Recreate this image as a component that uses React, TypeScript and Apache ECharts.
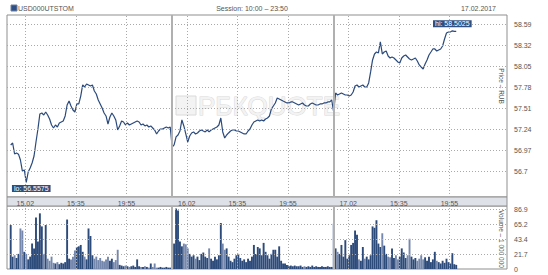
import React, { useEffect, useRef } from "react";
import * as echarts from "echarts";

// 10-minute slots, 83 slots per session (10:00 – 23:50), sessions joined end to end
const STEP_MIN = 10;
const dayStarts = [830, 1660];

const priceValues = [
  57.038, 57.063, 56.922, 56.935, 56.92, 56.845, 56.703, 56.717, 56.5575, 56.691,
  56.742, 56.806, 56.896, 57.076, 57.243, 57.436, 57.448, 57.423, 57.461, 57.423,
  57.371, 57.294, 57.256, 57.294, 57.269, 57.32, 57.333, 57.346, 57.41, 57.551,
  57.602, 57.538, 57.487, 57.461, 57.564, 57.564, 57.666, 57.808, 57.782, 57.821,
  57.808, 57.795, 57.808, 57.731, 57.692, 57.615, 57.564, 57.513, 57.448, 57.41,
  57.307, 57.397, 57.448, 57.41, 57.359, 57.23, 57.282, 57.346, 57.333, 57.294,
  57.32, 57.294, 57.307, 57.32, 57.333, 57.346, 57.333, 57.294, 57.307, 57.282,
  57.294, 57.269, 57.282, 57.256, 57.23, 57.179, 57.217, 57.243, 57.243, 57.256,
  57.269, 57.256, 57.269,
  57.012, 57.038, 57.141, 57.166, 57.217, 57.359, 57.282,
  57.179, 57.076, 57.153, 57.192, 57.205, 57.179, 57.192, 57.217, 57.23, 57.217,
  57.205, 57.23, 57.205, 57.23, 57.243, 57.256, 57.269, 57.294, 57.384, 57.205,
  57.128, 57.166, 57.192, 57.217, 57.23, 57.23, 57.217, 57.217, 57.205, 57.192,
  57.179, 57.179, 57.217, 57.243, 57.294, 57.333, 57.346, 57.359, 57.346, 57.359,
  57.346, 57.371, 57.384, 57.41, 57.5, 57.538, 57.577, 57.641, 57.628, 57.615,
  57.602, 57.59, 57.577, 57.577, 57.59, 57.59, 57.577, 57.564, 57.551, 57.564,
  57.577, 57.551, 57.538, 57.538, 57.564, 57.577, 57.564, 57.551, 57.551, 57.564,
  57.564, 57.577, 57.577, 57.59, 57.59, 57.615,
  57.461, 57.705, 57.679, 57.692,
  57.705, 57.692, 57.679, 57.679, 57.666, 57.679, 57.718, 57.795, 57.808, 57.782,
  57.795, 57.808, 57.782, 57.782, 57.834, 57.975, 58.129, 58.206, 58.231, 58.219,
  58.36, 58.206, 58.231, 58.244, 58.18, 58.154, 58.167, 58.154, 58.129, 58.103,
  58.09, 58.154, 58.18, 58.193, 58.167, 58.141, 58.129, 58.141, 58.154, 58.116,
  58.065, 58.039, 58.013, 58.077, 58.129, 58.193, 58.231, 58.27, 58.27, 58.244,
  58.257, 58.27, 58.308, 58.398, 58.475, 58.488, 58.488, 58.5025, 58.495, 58.497,
];

const volumeValues = [
  64, 18, 20, 16, 22, 59, 56, 25, 22, 14,
  18, 37, 30, 75, 40, 81, 62, 22, 64, 15,
  12, 18, 9, 8, 10, 7, 9, 8, 10, 72,
  15, 14, 18, 27, 32, 33, 35, 25, 18, 14,
  59, 48, 20, 15, 18, 13, 16, 12, 11, 14,
  18, 12, 15, 10, 13, 28, 6, 5, 4, 5,
  4, 3, 4, 5, 3, 14, 4, 3, 3, 4,
  3, 2, 8, 3, 8, 2, 2, 3, 2, 2,
  3, 2, 2,
  32, 37, 88, 85, 40, 33, 37,
  36, 30, 22, 18, 20, 15, 18, 13, 22, 24,
  18, 16, 30, 15, 12, 18, 14, 20, 67, 37,
  28, 30, 18, 12, 10, 15, 20, 22, 16, 12,
  14, 10, 15, 12, 18, 35, 22, 32, 30, 20,
  38, 25, 20, 15, 22, 28, 28, 18, 33, 12,
  8, 8, 6, 4, 5, 4, 5, 4, 4, 5,
  3, 4, 3, 4, 3, 5, 3, 4, 3, 3,
  4, 3, 3, 4, 3, 3,
  66, 30, 25, 22,
  35, 18, 42, 15, 20, 35, 38, 56, 50, 14,
  12, 32, 15, 18, 14, 20, 62, 60, 71, 37,
  32, 52, 34, 22, 18, 17, 30, 16, 20, 14,
  18, 30, 24, 16, 20, 44, 18, 14, 16, 12,
  15, 20, 14, 17, 12, 18, 10, 14, 25, 12,
  10, 8, 12, 9, 15, 10, 8, 23, 7, 6,
];

const xTickMinutes = [75, 335, 595, 905, 1165, 1425, 1735, 1995, 2255];
const xTickLabels = ["15.02", "15:35", "19:55", "16.02", "15:35", "19:55", "17.02", "15:35", "19:55"];
const priceTicks = [56.7, 56.97, 57.24, 57.51, 57.78, 58.05, 58.32, 58.59];
const volumeTicks = [0, 21.7, 43.4, 65.2, 86.9];

const FONT = "'Liberation Sans', Arial, sans-serif";
const LINE_COLOR = "#2b4a7c";

export default function App() {
  const ref = useRef<HTMLDivElement>(null);

  useEffect(() => {
    document.body.style.margin = "0";
    if (!ref.current) return;
    const chart = echarts.init(ref.current, undefined, { renderer: "svg" });

    const priceData = priceValues.map((p, i) => [i * STEP_MIN, p]);
    const volumeData = volumeValues.map((v, i) => ({
      value: [i * STEP_MIN, v],
      itemStyle: {
        color: i > 0 && priceValues[i] < priceValues[i - 1] - 0.02 ? "#7587ad" : "#2c4a7a",
      },
    }));

    // dotted grid: one markLine set per plot, built from the tick arrays
    const gridLines = (hTicks: number[], skip: number) => ({
      silent: true,
      symbol: ["none", "none"],
      label: { show: false },
      lineStyle: { color: "#aaaaaa", width: 1, type: [1, 2] },
      data: [
        ...hTicks.filter((v) => v !== skip).map((v) => ({ yAxis: v })),
        ...xTickMinutes.map((t) => ({ xAxis: t })),
      ],
    });

    const dayLines = {
      silent: true,
      symbol: ["none", "none"],
      label: { show: false },
      lineStyle: { color: "#b0b0b0", width: 2, type: "solid" },
      data: dayStarts.map((d) => ({ xAxis: d })),
    };

    const xBase = {
      type: "value" as const,
      min: -19,
      max: 2551,
      axisLine: { show: false },
      axisTick: { show: false },
      splitLine: { show: false },
    };

    const yLabel = {
      margin: 7,
      fontSize: 7,
      color: "#555",
      fontFamily: FONT,
      formatter: (v: number) => String(v),
    };

    chart.setOption({
      animation: false,
      textStyle: { fontFamily: FONT },
      grid: [
        { left: 7, top: 15, width: 500, height: 182, show: true, borderColor: "#8f8f8f", borderWidth: 1 },
        { left: 7, top: 206, width: 500, height: 63, show: true, borderColor: "#8f8f8f", borderWidth: 1 },
      ],
      xAxis: [
        {
          ...xBase,
          gridIndex: 0,
          z: 5,
          axisLabel: {
            customValues: xTickMinutes,
            margin: 3,
            fontSize: 7,
            color: "#555",
            fontFamily: FONT,
            formatter: (v: number) => {
              const k = xTickMinutes.indexOf(v);
              return k >= 0 ? xTickLabels[k] : "";
            },
          },
        },
        { ...xBase, gridIndex: 1, axisLabel: { show: false } },
      ],
      yAxis: [
        {
          type: "value",
          gridIndex: 0,
          position: "right",
          min: 56.37,
          max: 58.706,
          axisLine: { show: false },
          axisTick: { show: false },
          splitLine: { show: false },
          axisLabel: { ...yLabel, customValues: priceTicks },
        },
        {
          type: "value",
          gridIndex: 1,
          position: "right",
          min: 0,
          max: 91.7,
          axisLine: { show: false },
          axisTick: { show: false },
          splitLine: { show: false },
          axisLabel: { ...yLabel, customValues: volumeTicks },
        },
      ],
      graphic: [
        {
          type: "rect",
          z: 0,
          shape: { x: 176, y: 96, width: 20, height: 19 },
          style: { fill: "#f3f3f3", stroke: "#dadada", lineWidth: 1 },
        },
        {
          type: "text",
          z: 0,
          x: 198,
          y: 106,
          style: {
            text: "РБКQUOTE",
            fontSize: 26,
            fontFamily: FONT,
            fill: "#f3f3f3",
            stroke: "#d9d9d9",
            lineWidth: 1,
            align: "left",
            verticalAlign: "middle",
          },
        },
        {
          type: "rect",
          shape: { x: 11, y: 5, width: 6, height: 6 },
          style: { fill: "#2d4f86", stroke: "#6f80a3", lineWidth: 1 },
        },
        {
          type: "text",
          x: 18,
          y: 8,
          style: { text: "USD000UTSTOM", fontSize: 7, fontFamily: FONT, fill: "#555", align: "left", verticalAlign: "middle" },
        },
        {
          type: "text",
          x: 252,
          y: 8,
          style: { text: "Session: 10:00 – 23:50", fontSize: 7, fontFamily: FONT, fill: "#555", align: "center", verticalAlign: "middle" },
        },
        {
          type: "text",
          x: 496,
          y: 8,
          style: { text: "17.02.2017", fontSize: 7, fontFamily: FONT, fill: "#555", align: "right", verticalAlign: "middle" },
        },
        {
          type: "rect",
          z: 0,
          shape: { x: 7, y: 197, width: 500, height: 9 },
          style: { fill: "#dfe1e9", stroke: "#8f8f8f", lineWidth: 1 },
        },
        {
          type: "text",
          x: 501,
          y: 86,
          rotation: -Math.PI / 2,
          style: { text: "Price – RUB", fontSize: 6.5, fontFamily: FONT, fill: "#555", align: "center", verticalAlign: "middle" },
        },
        {
          type: "text",
          x: 501,
          y: 239,
          rotation: -Math.PI / 2,
          style: { text: "Volume – 1 000 000", fontSize: 6.5, fontFamily: FONT, fill: "#555", align: "center", verticalAlign: "middle" },
        },
      ],
      series: [
        {
          type: "line",
          name: "priceGrid",
          xAxisIndex: 0,
          yAxisIndex: 0,
          z: 1,
          silent: true,
          data: priceData,
          showSymbol: false,
          lineStyle: { width: 0, color: "rgba(0,0,0,0)" },
          markLine: gridLines(priceTicks, -1),
        },
        {
          type: "line",
          name: "volumeGrid",
          xAxisIndex: 1,
          yAxisIndex: 1,
          z: 1,
          silent: true,
          data: volumeValues.map((v, i) => [i * STEP_MIN, v]),
          showSymbol: false,
          lineStyle: { width: 0, color: "rgba(0,0,0,0)" },
          markLine: gridLines(volumeTicks, 0),
        },
        {
          type: "line",
          xAxisIndex: 0,
          yAxisIndex: 0,
          z: 3,
          data: priceData,
          showSymbol: false,
          lineStyle: { color: LINE_COLOR, width: 1.2 },
          markLine: dayLines,
          markPoint: {
            symbol: "circle",
            symbolSize: 1,
            itemStyle: { color: "rgba(0,0,0,0)" },
            label: {
              show: true,
              formatter: (p: any) => `${p.name}: ${p.value}`,
              color: "#fff",
              backgroundColor: "#2f4f80",
              fontSize: 7,
              fontFamily: FONT,
              padding: [0, 2],
              lineHeight: 7,
            },
            data: [
              { type: "max", name: "hi", label: { position: "top", distance: 3 } },
              { type: "min", name: "lo", label: { position: "bottom", distance: 2, offset: [5, 0] } },
            ],
          },
        },
        {
          type: "bar",
          xAxisIndex: 1,
          yAxisIndex: 1,
          z: 3,
          barWidth: 1.9,
          data: volumeData,
          markLine: dayLines,
        },
      ],
    });

    return () => chart.dispose();
  }, []);

  return <div ref={ref} style={{ width: 548, height: 275 }} />;
}
